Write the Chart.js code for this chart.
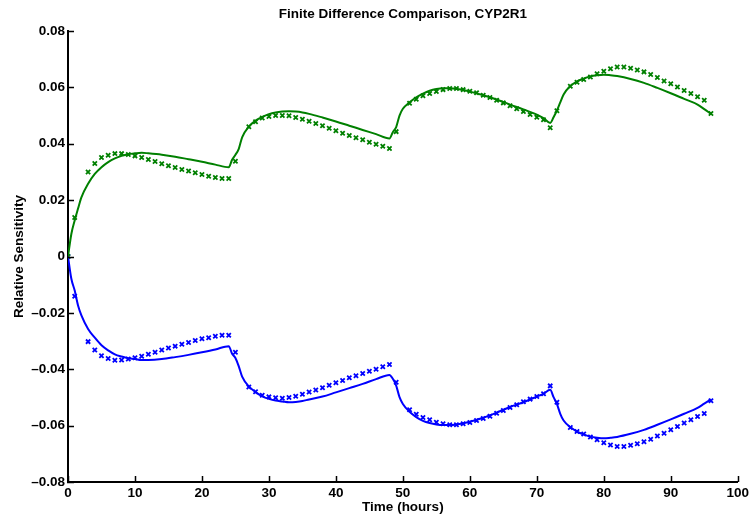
<!DOCTYPE html>
<html>
<head>
<meta charset="utf-8">
<script src="https://cdn.jsdelivr.net/npm/chart.js@4/dist/chart.umd.min.js"></script>
<style>
html,body{margin:0;padding:0;background:#fff;}
#wrap{width:752px;height:519px;position:relative;}
</style>
</head>
<body>
<div id="wrap"><canvas id="c" width="752" height="519"></canvas></div>
<script>
const chartTitle = "Finite Difference Comparison, CYP2R1";
const xTitle = "Time (hours)";
const yTitle = "Relative Sensitivity";

const markerHours = [0,1,3,4,5,6,7,8,9,10,11,12,13,14,15,16,17,18,19,20,21,22,23,24,
  25,27,28,29,30,31,32,33,34,35,36,37,38,39,40,41,42,43,44,45,46,47,48,
  49,51,52,53,54,55,56,57,58,59,60,61,62,63,64,65,66,67,68,69,70,71,72,
  73,75,76,77,78,79,80,81,82,83,84,85,86,87,88,89,90,91,92,93,94,95,96];

const greenMarkers = [0,0.0138,0.0300,0.0330,0.0351,0.0359,0.0365,0.0365,0.0362,0.0357,0.0351,0.0344,0.0337,0.0329,0.0322,0.0316,0.0309,0.0303,0.0297,0.0291,0.0285,0.0280,0.0277,0.0277,
  0.0338,0.0460,0.0478,0.0491,0.0497,0.0500,0.0500,0.0499,0.0493,0.0487,0.0480,0.0472,0.0464,0.0455,0.0446,0.0437,0.0429,0.0421,0.0414,0.0405,0.0398,0.0391,0.0383,
  0.0443,0.0544,0.0558,0.0570,0.0578,0.0585,0.0592,0.0596,0.0596,0.0592,0.0586,0.0581,0.0572,0.0564,0.0554,0.0545,0.0535,0.0524,0.0514,0.0504,0.0494,0.0485,0.0457,
  0.0517,0.0604,0.0618,0.0628,0.0637,0.0648,0.0657,0.0666,0.0672,0.0672,0.0668,0.0662,0.0655,0.0646,0.0635,0.0623,0.0613,0.0601,0.0589,0.0578,0.0567,0.0554,0.0507];

const blueMarkers = [0,-0.0141,-0.0302,-0.0332,-0.0352,-0.0362,-0.0368,-0.0367,-0.0364,-0.0359,-0.0354,-0.0347,-0.0340,-0.0332,-0.0325,-0.0318,-0.0311,-0.0305,-0.0298,-0.0292,-0.0288,-0.0283,-0.0279,-0.0279,
  -0.0340,-0.0463,-0.0480,-0.0492,-0.0498,-0.0501,-0.0503,-0.0500,-0.0496,-0.0489,-0.0481,-0.0474,-0.0466,-0.0457,-0.0448,-0.0440,-0.0430,-0.0423,-0.0415,-0.0407,-0.0400,-0.0391,-0.0383,
  -0.0446,-0.0544,-0.0560,-0.0571,-0.0579,-0.0588,-0.0593,-0.0597,-0.0597,-0.0593,-0.0589,-0.0582,-0.0575,-0.0567,-0.0556,-0.0546,-0.0536,-0.0526,-0.0515,-0.0506,-0.0497,-0.0487,-0.0459,
  -0.0517,-0.0607,-0.0621,-0.0630,-0.0640,-0.0650,-0.0661,-0.0669,-0.0674,-0.0674,-0.0670,-0.0664,-0.0657,-0.0648,-0.0637,-0.0627,-0.0615,-0.0603,-0.0591,-0.0579,-0.0568,-0.0557,-0.0512];

const lineHours = [0,0.5,1,1.5,2,3,4,5,6,7,8,9,10,11,12,14,16,18,20,22,24,
  24.5,25,25.5,26,27,28,29,30,31,32,33,34,35,36,38,40,42,44,46,48,
  48.5,49,49.5,50,51,52,53,54,55,56,57,58,60,62,64,66,68,70,71,72,
  72.5,73,73.5,74,75,76,77,78,79,80,81,82,84,86,88,90,92,94,95,96];

const greenLine = [0,0.0080,0.0128,0.0170,0.0210,0.0258,0.0293,0.0317,0.0335,0.0348,0.0357,0.0363,0.0366,0.0368,0.0366,0.0361,0.0354,0.0345,0.0336,0.0326,0.0317,
  0.0343,0.0361,0.0382,0.0423,0.0461,0.0482,0.0495,0.0505,0.0511,0.0514,0.0515,0.0514,0.0511,0.0506,0.0493,0.0479,0.0464,0.0449,0.0434,0.0419,
  0.0441,0.0459,0.0500,0.0524,0.0547,0.0565,0.0578,0.0588,0.0594,0.0597,0.0597,0.0595,0.0585,0.0572,0.0557,0.0539,0.0522,0.0503,0.0491,0.0474,
  0.0494,0.0518,0.0547,0.0575,0.0605,0.0621,0.0631,0.0639,0.0643,0.0645,0.0643,0.0640,0.0630,0.0616,0.0598,0.0579,0.0559,0.0539,0.0523,0.0506];

const blueLine = [0,-0.0079,-0.0121,-0.0174,-0.0209,-0.0257,-0.0288,-0.0315,-0.0333,-0.0347,-0.0355,-0.0361,-0.0364,-0.0367,-0.0367,-0.0364,-0.0357,-0.0349,-0.0340,-0.0330,-0.0318,
  -0.0345,-0.0360,-0.0390,-0.0426,-0.0461,-0.0481,-0.0496,-0.0505,-0.0511,-0.0514,-0.0517,-0.0516,-0.0513,-0.0507,-0.0497,-0.0482,-0.0467,-0.0452,-0.0435,-0.0420,
  -0.0434,-0.0458,-0.0499,-0.0523,-0.0551,-0.0570,-0.0583,-0.0591,-0.0596,-0.0598,-0.0598,-0.0596,-0.0586,-0.0572,-0.0554,-0.0534,-0.0517,-0.0497,-0.0487,-0.0473,
  -0.0499,-0.0523,-0.0558,-0.0582,-0.0605,-0.0621,-0.0631,-0.0639,-0.0643,-0.0645,-0.0643,-0.0640,-0.0629,-0.0615,-0.0597,-0.0578,-0.0558,-0.0537,-0.0522,-0.0507];

const GREEN = 'rgb(0,128,0)';
const BLUE = 'rgb(0,0,255)';
const FONT = {family: 'Liberation Sans, Arial, Helvetica, sans-serif', size: 13.5, weight: 'bold'};

const pts = (xs, ys) => xs.map((x, i) => ({x: x, y: ys[i]}));

const lineDs = (ys, color) => ({
  data: pts(lineHours, ys), borderColor: color, backgroundColor: color,
  borderWidth: 2, pointRadius: 0, showLine: true, cubicInterpolationMode: 'monotone', fill: false
});
const markDs = (ys, color) => ({
  data: pts(markerHours, ys), borderColor: color, backgroundColor: color,
  borderWidth: 1.8, pointRadius: 3, pointStyle: 'crossRot', showLine: false
});

const titlePlugin = {
  id: 'ttl',
  afterDraw(chart) {
    const ctx = chart.ctx, a = chart.chartArea;
    ctx.save();
    ctx.font = 'bold 13.5px "Liberation Sans", Arial, Helvetica, sans-serif';
    ctx.fillStyle = '#000';
    ctx.textAlign = 'center';
    ctx.textBaseline = 'alphabetic';
    ctx.fillText(chartTitle, (a.left + a.right) / 2, 18);
    // inward tick marks
    ctx.strokeStyle = '#000';
    ctx.lineWidth = 1.5;
    const xs = chart.scales.x, ys = chart.scales.y;
    ctx.beginPath();
    xs.ticks.forEach(t => {
      const px = Math.round(xs.getPixelForValue(t.value)) + 0.5;
      ctx.moveTo(px, a.bottom); ctx.lineTo(px, a.bottom - 6);
    });
    ys.ticks.forEach(t => {
      const py = Math.round(ys.getPixelForValue(t.value)) + 0.5;
      ctx.moveTo(a.left - 1, py); ctx.lineTo(a.left + 6, py);
    });
    ctx.stroke();
    ctx.restore();
  }
};

new Chart(document.getElementById('c'), {
  type: 'line',
  data: {
    datasets: [
      lineDs(greenLine, GREEN),
      lineDs(blueLine, BLUE),
      markDs(greenMarkers, GREEN),
      markDs(blueMarkers, BLUE)
    ]
  },
  plugins: [titlePlugin],
  options: {
    responsive: false,
    animation: false,
    events: [],
    layout: {padding: {top: 31, right: 13, bottom: 0, left: 0}},
    plugins: {legend: {display: false}, tooltip: {enabled: false}, title: {display: false}},
    scales: {
      x: {
        type: 'linear', min: 0, max: 100,
        ticks: {stepSize: 10, color: '#000', font: FONT, padding: 3, maxRotation: 0, autoSkip: false},
        grid: {display: true, drawOnChartArea: false, drawTicks: false},
        border: {color: '#000', width: 2},
        title: {display: true, text: xTitle, color: '#000', font: FONT, padding: {top: 0, bottom: 4}},
        afterFit(s) { s.height = 37; }
      },
      y: {
        type: 'linear', min: -0.08, max: 0.08,
        ticks: {
          stepSize: 0.02, color: '#000', font: FONT, padding: 3, autoSkip: false,
          callback: v => Math.abs(v) < 1e-9 ? '0' : v.toFixed(2).replace('-', '\u2013')
        },
        grid: {display: true, drawOnChartArea: false, drawTicks: false},
        border: {color: '#000', width: 2},
        title: {display: true, text: yTitle, color: '#000', font: FONT, padding: {top: 11, bottom: 0}},
        afterFit(s) { s.width = 68; }
      }
    }
  }
});
</script>
</body>
</html>
